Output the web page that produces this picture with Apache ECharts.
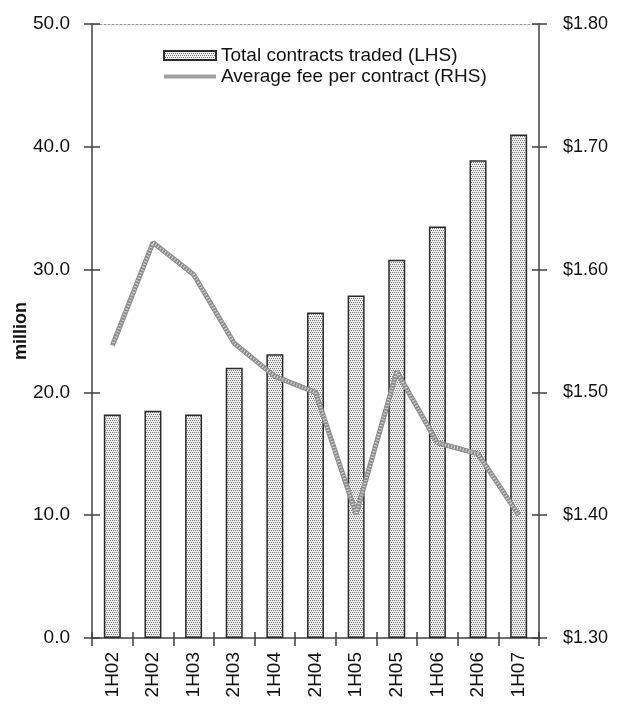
<!DOCTYPE html>
<html>
<head>
<meta charset="utf-8">
<script src="https://cdn.jsdelivr.net/npm/echarts@6/dist/echarts.min.js"></script>
<style>html,body{margin:0;padding:0;background:#fff}#c{width:624px;height:712px}</style>
</head>
<body>
<div id="c"></div>
<script>
const categories = ['1H02','2H02','1H03','2H03','1H04','2H04','1H05','2H05','1H06','2H06','1H07'];
const contracts = [18.2, 18.5, 18.2, 22.0, 23.1, 26.5, 27.9, 30.8, 33.5, 38.9, 41.0];
const avgFee = [1.538, 1.622, 1.596, 1.540, 1.513, 1.500, 1.401, 1.517, 1.459, 1.450, 1.400];
const leftTicks = [0, 10, 20, 30, 40, 50];
const rightTicks = [1.30, 1.40, 1.50, 1.60, 1.70, 1.80];

function makePattern() {
  const c = document.createElement('canvas');
  c.width = 4; c.height = 4;
  const ctx = c.getContext('2d');
  ctx.fillStyle = '#eeeeee'; ctx.fillRect(0, 0, 4, 4);
  ctx.fillStyle = '#777777';
  ctx.fillRect(0, 0, 1, 1); ctx.fillRect(2, 0, 1, 1);
  ctx.fillRect(1, 2, 1, 1); ctx.fillRect(3, 2, 1, 1);
  return c;
}
const barFill = { image: makePattern(), repeat: 'repeat' };
const axisColor = '#404040';
const font = 'Liberation Sans, Arial, sans-serif';

const chart = echarts.init(document.getElementById('c'));
chart.setOption({
  animation: false,
  backgroundColor: '#fff',
  grid: { left: 92, right: 85, top: 24, bottom: 74, containLabel: false, outerBoundsMode: 'none' },
  legend: {
    orient: 'vertical', left: 163, top: 46, padding: 0, itemWidth: 52, itemHeight: 9, itemGap: 2,
    data: [
      { name: 'Total contracts traded (LHS)', icon: 'rect' },
      { name: 'Average fee per contract (RHS)', icon: 'path://M0,0H52V4H0Z', itemStyle: { color: '#a0a0a0' } }
    ],
    textStyle: { fontFamily: font, fontSize: 19, lineHeight: 17, color: '#111' }
  },
  xAxis: [
    {
      type: 'category', data: categories, position: 'bottom', boundaryGap: true,
      axisLine: { show: true, lineStyle: { color: axisColor, width: 1.5 } },
      axisTick: { show: true, inside: false, length: 8, interval: 0, lineStyle: { color: axisColor, width: 1.5 } },
      axisLabel: { show: true, rotate: 90, interval: 0, margin: 14, fontFamily: font, fontSize: 19, color: '#111' },
      splitLine: { show: false }
    },
    {
      type: 'category', data: categories, position: 'bottom', boundaryGap: true,
      axisLine: { show: false },
      axisTick: { show: true, inside: true, length: 6, interval: 0, lineStyle: { color: axisColor, width: 1.5 } },
      axisLabel: { show: false }, splitLine: { show: false }
    },
    {
      type: 'category', data: categories, position: 'top', boundaryGap: true,
      axisLine: { show: true, lineStyle: { color: '#9a9a9a', width: 1, type: [2, 2] } },
      axisTick: { show: false }, axisLabel: { show: false }, splitLine: { show: false }
    }
  ],
  yAxis: [
    {
      type: 'value', position: 'left', min: 0, max: 50, interval: 10,
      name: 'million', nameLocation: 'middle', nameGap: 62, nameRotate: 90, nameMoveOverlap: false,
      nameTextStyle: { fontFamily: font, fontSize: 18, fontWeight: 'bold', color: '#111' },
      axisLine: { show: true, lineStyle: { color: axisColor, width: 1.5 } },
      axisTick: { show: true, inside: false, length: 8, lineStyle: { color: axisColor, width: 1.5 } },
      axisLabel: { margin: 22, fontFamily: font, fontSize: 19, color: '#111', formatter: v => leftTicks.includes(v) ? v.toFixed(1) : '' },
      splitLine: { show: false }
    },
    {
      type: 'value', position: 'right', min: 1.3, max: 1.8, interval: 0.1,
      axisLine: { show: true, lineStyle: { color: axisColor, width: 1.5 } },
      axisTick: { show: true, inside: false, length: 8, lineStyle: { color: axisColor, width: 1.5 } },
      axisLabel: { margin: 24, fontFamily: font, fontSize: 18, color: '#111', formatter: v => '$' + (Math.round(v * 100) / 100).toFixed(2) },
      splitLine: { show: false }
    },
    {
      type: 'value', position: 'left', min: 0, max: 50, interval: 10,
      axisLine: { show: false },
      axisTick: { show: true, inside: true, length: 8, lineStyle: { color: axisColor, width: 1.5 } },
      axisLabel: { show: false }, splitLine: { show: false }
    },
    {
      type: 'value', position: 'right', min: 1.3, max: 1.8, interval: 0.1,
      axisLine: { show: false },
      axisTick: { show: true, inside: true, length: 7, lineStyle: { color: axisColor, width: 1.5 } },
      axisLabel: { show: false }, splitLine: { show: false }
    }
  ],
  series: [
    {
      name: 'Total contracts traded (LHS)', type: 'bar', data: contracts, barWidth: 17,
      xAxisIndex: 0, yAxisIndex: 0,
      itemStyle: { color: barFill, borderColor: '#2a2a2a', borderWidth: 1.5 }
    },
    {
      name: 'Average fee per contract (RHS)', type: 'line', data: avgFee,
      xAxisIndex: 0, yAxisIndex: 1, symbol: 'none', showSymbol: false, z: 3,
      lineStyle: { color: '#8c8c8c', width: 5 }, itemStyle: { color: '#8c8c8c' }
    },
    {
      name: 'fee-texture', type: 'line', data: avgFee,
      xAxisIndex: 0, yAxisIndex: 1, symbol: 'none', z: 4, silent: true,
      lineStyle: { color: '#dcdcdc', width: 3, type: [1, 2] }
    }
  ]
});
</script>
</body>
</html>
